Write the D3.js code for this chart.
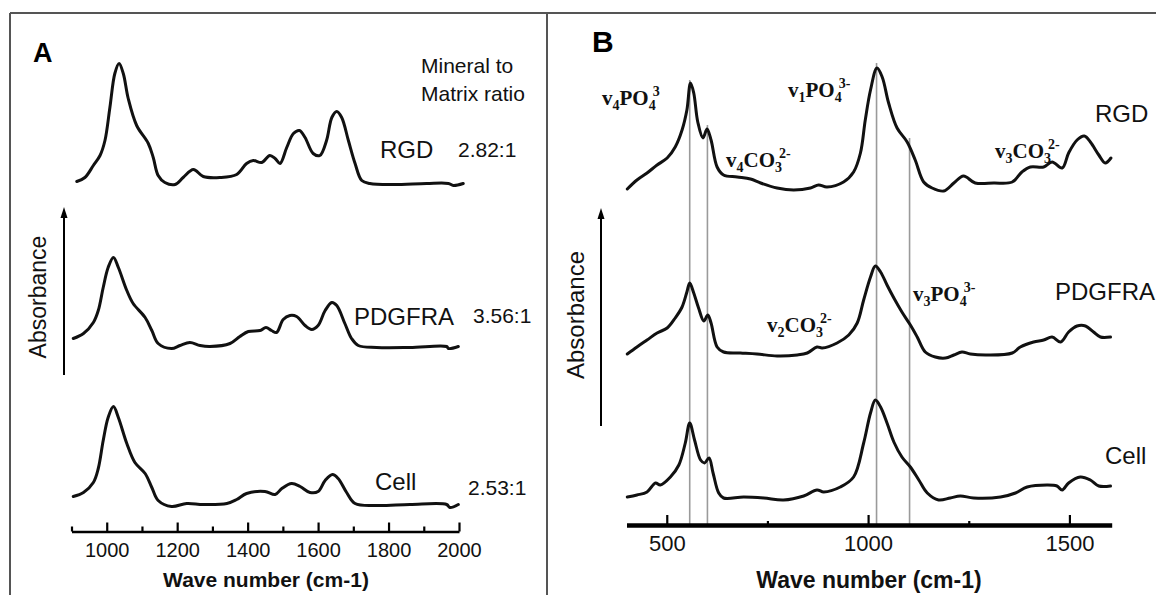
<!DOCTYPE html>
<html>
<head>
<meta charset="utf-8">
<script src="https://cdn.jsdelivr.net/npm/d3@7"></script>
<style>
  body { margin: 0; background: #fff; }
  svg { display: block; }
</style>
</head>
<body>
<div id="chart"></div>
<script>
// FTIR spectra: [wave number (cm-1), stacked absorbance (a.u.)]
// panel A
const rgdA = [[915,3.50],[938,3.54],[962,3.66],[981,3.76],[995,3.91],[1009,4.24],[1023,4.58],[1035,4.68],
  [1047,4.58],[1061,4.33],[1085,4.06],[1118,3.88],[1132,3.74],[1146,3.56],[1165,3.49],[1194,3.47],[1217,3.54],
  [1246,3.62],[1274,3.55],[1321,3.54],[1369,3.57],[1397,3.68],[1416,3.71],[1440,3.69],[1463,3.76],[1478,3.73],
  [1492,3.68],[1511,3.84],[1530,3.98],[1547,4.01],[1563,3.94],[1586,3.78],[1605,3.76],[1624,3.91],[1639,4.14],
  [1653,4.20],[1667,4.14],[1686,3.91],[1705,3.68],[1724,3.51],[1747,3.48],[1813,3.47],[1908,3.48],[1970,3.48],
  [1984,3.46],[2012,3.48]];
const pdgfraA = [[905,1.93],[934,1.98],[962,2.09],[976,2.21],[990,2.44],[1004,2.64],[1019,2.74],[1033,2.64],
  [1057,2.41],[1075,2.28],[1109,2.14],[1128,2.01],[1146,1.88],[1184,1.83],[1208,1.86],[1236,1.89],[1265,1.86],
  [1293,1.85],[1350,1.88],[1378,1.95],[1402,2.00],[1435,2.01],[1452,2.04],[1468,2.01],[1482,1.99],[1501,2.12],
  [1520,2.16],[1539,2.15],[1563,2.06],[1582,2.02],[1600,2.06],[1620,2.21],[1639,2.29],[1653,2.26],[1676,2.08],
  [1695,1.93],[1714,1.86],[1766,1.84],[1861,1.84],[1965,1.85],[1970,1.83],[1998,1.85]];
const cellA = [[905,0.35],[934,0.39],[962,0.49],[976,0.63],[990,0.91],[1004,1.14],[1019,1.25],[1033,1.14],
  [1057,0.88],[1080,0.69],[1109,0.58],[1128,0.44],[1146,0.31],[1184,0.25],[1227,0.28],[1274,0.27],[1341,0.28],
  [1369,0.32],[1397,0.38],[1449,0.40],[1478,0.37],[1497,0.43],[1525,0.48],[1549,0.45],[1577,0.39],[1600,0.40],
  [1620,0.51],[1641,0.57],[1657,0.53],[1681,0.39],[1705,0.28],[1766,0.26],[1861,0.27],[1965,0.27],[1974,0.24],
  [1998,0.27]];

// panel B
const rgdB = [[402,3.36],[426,3.45],[451,3.52],[476,3.60],[501,3.67],[521,3.78],[538,3.95],[550,4.15],[559,4.42],
  [567,4.32],[577,4.03],[590,3.87],[600,3.96],[610,3.85],[625,3.58],[641,3.50],[675,3.48],[708,3.46],[733,3.42],
  [774,3.37],[815,3.35],[857,3.37],[877,3.40],[898,3.38],[939,3.43],[964,3.53],[981,3.72],[993,4.05],[1006,4.35],
  [1022,4.57],[1035,4.48],[1051,4.22],[1072,3.97],[1097,3.83],[1117,3.65],[1138,3.43],[1159,3.37],[1188,3.34],
  [1213,3.42],[1237,3.49],[1266,3.42],[1312,3.42],[1358,3.43],[1382,3.53],[1403,3.58],[1436,3.58],[1457,3.63],
  [1482,3.57],[1498,3.72],[1519,3.85],[1537,3.89],[1552,3.83],[1573,3.70],[1589,3.62],[1603,3.67]];
const pdgfraB = [[402,1.71],[426,1.78],[451,1.85],[476,1.92],[501,1.97],[521,2.07],[538,2.18],[550,2.33],[557,2.42],
  [567,2.32],[579,2.17],[592,2.04],[602,2.10],[610,2.02],[625,1.78],[641,1.73],[683,1.72],[724,1.71],[774,1.69],
  [824,1.70],[849,1.72],[873,1.78],[886,1.77],[923,1.82],[952,1.90],[973,2.02],[989,2.25],[1006,2.48],[1018,2.59],
  [1031,2.53],[1047,2.40],[1064,2.27],[1084,2.13],[1105,2.00],[1122,1.88],[1142,1.73],[1167,1.68],[1192,1.67],
  [1213,1.70],[1233,1.73],[1254,1.71],[1296,1.70],[1358,1.72],[1378,1.78],[1411,1.83],[1436,1.85],[1457,1.88],
  [1478,1.83],[1498,1.93],[1519,1.99],[1540,1.99],[1560,1.93],[1577,1.88],[1602,1.88]];
const cellB = [[402,0.28],[426,0.30],[451,0.33],[472,0.42],[484,0.40],[509,0.48],[530,0.60],[546,0.82],[557,1.02],
  [569,0.85],[584,0.65],[594,0.62],[605,0.67],[615,0.52],[629,0.32],[641,0.27],[691,0.28],[741,0.27],[790,0.25],
  [840,0.29],[873,0.35],[890,0.33],[931,0.38],[964,0.48],[989,0.82],[1006,1.12],[1018,1.25],[1031,1.18],[1047,1.02],
  [1064,0.83],[1084,0.68],[1105,0.58],[1126,0.45],[1147,0.32],[1175,0.25],[1204,0.27],[1229,0.29],[1262,0.27],
  [1329,0.28],[1366,0.32],[1395,0.38],[1445,0.40],[1469,0.39],[1482,0.35],[1498,0.42],[1527,0.48],[1552,0.45],
  [1573,0.39],[1602,0.39]];

const seriesNames = ["RGD", "PDGFRA", "Cell"];
const ratiosA = ["2.82:1", "3.56:1", "2.53:1"];

const majorTicksA = [1000, 1200, 1400, 1600, 1800, 2000];
const minorTicksA = [900, 1100, 1300, 1500, 1700, 1900];
const majorTicksB = [500, 1000, 1500];
const minorTicksB = [750, 1250];

// band assignment lines in B: position and height (top of the line)
const bandLinesB = [557, 601, 1021, 1103];
const bandTopsB = [4.45, 4.0, 4.62, 3.87];

const W = 1156, H = 595;
const SANS = "'Liberation Sans', Arial, Helvetica, sans-serif";
const SERIF = "'Liberation Serif', 'Times New Roman', Times, serif";

const svg = d3.select("#chart").append("svg")
  .attr("width", W).attr("height", H)
  .style("font-family", SANS);

// figure frame
const frame = svg.append("g").attr("stroke", "#555").attr("stroke-width", 2);
frame.append("line").attr("x1", 10).attr("x2", W).attr("y1", 13).attr("y2", 13);
frame.append("line").attr("x1", 10).attr("x2", 10).attr("y1", 13).attr("y2", H);
frame.append("line").attr("x1", 547).attr("x2", 547).attr("y1", 13).attr("y2", H);

function drawPanel(p) {
  const g = svg.append("g");
  const x = d3.scaleLinear().domain(p.xDomain).range(p.xRange);
  const y = d3.scaleLinear().domain([0, 5]).range([p.axisY, p.axisY - 500]);

  if (p.bands) {
    g.append("g").selectAll("line")
      .data(p.bands)
      .join("line")
      .attr("x1", d => x(d[0])).attr("x2", d => x(d[0]))
      .attr("y1", y(0)).attr("y2", d => y(d[1]))
      .attr("stroke", "#9a9a9a").attr("stroke-width", 1.6);
  }

  const line = d3.line()
    .x(d => x(d[0]))
    .y(d => y(d[1]))
    .curve(d3.curveCatmullRom.alpha(0.5));

  g.append("g").selectAll("path")
    .data(p.series)
    .join("path")
    .attr("d", line)
    .attr("fill", "none")
    .attr("stroke", "#111")
    .attr("stroke-width", 3)
    .attr("stroke-linejoin", "round")
    .attr("stroke-linecap", "round");

  // x axis, ticks pointing up
  const axis = g.append("g").attr("transform", `translate(0,${p.axisY})`)
    .call(d3.axisBottom(x).tickValues(p.majors).tickSizeInner(-p.majorLen).tickSizeOuter(0)
      .tickPadding(p.labelPad).tickFormat(d3.format("d")));
  axis.select(".domain").attr("stroke", "#000").attr("stroke-width", p.axisWidth);
  axis.selectAll(".tick line").attr("stroke", "#000").attr("stroke-width", 2.2);
  axis.selectAll("text").attr("font-family", SANS).attr("font-size", p.tickFont).attr("fill", "#111");

  const minor = g.append("g").attr("transform", `translate(0,${p.axisY})`)
    .call(d3.axisBottom(x).tickValues(p.minors).tickSizeInner(-p.minorLen).tickSizeOuter(0).tickFormat(""));
  minor.select(".domain").remove();
  minor.selectAll(".tick line").attr("stroke", "#000").attr("stroke-width", 2.2);

  g.append("text")
    .attr("x", p.titleX).attr("y", p.titleY)
    .attr("text-anchor", "middle")
    .attr("font-weight", "bold").attr("font-size", p.titleFont)
    .attr("fill", "#111")
    .text("Wave number (cm-1)");

  // absorbance arrow
  const [yBot, yTop] = p.arrowY;
  g.append("line")
    .attr("x1", p.arrowX).attr("x2", p.arrowX)
    .attr("y1", yBot).attr("y2", yTop + 8)
    .attr("stroke", "#000").attr("stroke-width", 2);
  g.append("path")
    .attr("d", `M${p.arrowX},${yTop} L${p.arrowX + 3.5},${yTop + 11} L${p.arrowX - 3.5},${yTop + 11} Z`)
    .attr("fill", "#000");
  g.append("text")
    .attr("transform", `translate(${p.absX},${p.absY}) rotate(-90)`)
    .attr("text-anchor", "middle")
    .attr("font-size", p.absFont).attr("fill", "#111")
    .text("Absorbance");

  g.append("text")
    .attr("x", p.letterX).attr("y", p.letterY)
    .attr("font-weight", "bold").attr("font-size", p.letterFont)
    .text(p.letter);

  g.append("g").selectAll("text")
    .data(p.names)
    .join("text")
    .attr("x", d => d.x).attr("y", d => d.y)
    .attr("font-size", 24).attr("fill", "#111")
    .text(d => d.text);

  return g;
}

// panel A
const gA = drawPanel({
  xDomain: [900, 2000], xRange: [71.5, 459], axisY: 531.5, axisWidth: 2.5,
  series: [rgdA, pdgfraA, cellA],
  majors: majorTicksA, minors: minorTicksA, majorLen: 9, minorLen: 5, labelPad: 11, tickFont: 20,
  titleX: 266, titleY: 587, titleFont: 21,
  arrowX: 64, arrowY: [375, 207], absX: 46, absY: 297, absFont: 23,
  letter: "A", letterX: 33, letterY: 62, letterFont: 27,
  names: [
    { text: seriesNames[0], x: 380, y: 158 },
    { text: seriesNames[1], x: 354, y: 325 },
    { text: seriesNames[2], x: 375, y: 490 }
  ]
});

gA.append("text").attr("x", 421).attr("y", 73).attr("font-size", 21).attr("fill", "#111").text("Mineral to");
gA.append("text").attr("x", 421).attr("y", 101).attr("font-size", 21).attr("fill", "#111").text("Matrix ratio");
gA.append("g").selectAll("text")
  .data(ratiosA.map((r, i) => ({ text: r, x: [458, 473, 468][i], y: [157, 323, 495][i] })))
  .join("text")
  .attr("x", d => d.x).attr("y", d => d.y)
  .attr("font-size", 21).attr("fill", "#111")
  .text(d => d.text);

// panel B
const gB = drawPanel({
  xDomain: [400, 1605], xRange: [626.5, 1111.7], axisY: 525, axisWidth: 4.5,
  series: [rgdB, pdgfraB, cellB],
  bands: bandLinesB.map((b, i) => [b, bandTopsB[i]]),
  majors: majorTicksB, minors: minorTicksB, majorLen: 10, minorLen: 4, labelPad: 10, tickFont: 22,
  titleX: 869, titleY: 588, titleFont: 23,
  arrowX: 601, arrowY: [426, 208], absX: 584, absY: 315, absFont: 24,
  letter: "B", letterX: 592, letterY: 52, letterFont: 30,
  names: [
    { text: seriesNames[0], x: 1095, y: 122 },
    { text: seriesNames[1], x: 1055, y: 300 },
    { text: seriesNames[2], x: 1105, y: 464 }
  ]
});

// vibrational band labels: pieces of [text, position]
const bandLabels = [
  { x: 602, y: 105, parts: [["v", ""], ["4", "sub"], ["PO", ""], ["4", "sub"], ["3", "sup"]] },
  { x: 788, y: 97,  parts: [["v", ""], ["1", "sub"], ["PO", ""], ["4", "sub"], ["3-", "sup"]] },
  { x: 726, y: 167, parts: [["v", ""], ["4", "sub"], ["CO", ""], ["3", "sub"], ["2-", "sup"]] },
  { x: 995, y: 158, parts: [["v", ""], ["3", "sub"], ["CO", ""], ["3", "sub"], ["2-", "sup"]] },
  { x: 767, y: 332, parts: [["v", ""], ["2", "sub"], ["CO", ""], ["3", "sub"], ["2-", "sup"]] },
  { x: 913, y: 301, parts: [["v", ""], ["3", "sub"], ["PO", ""], ["4", "sub"], ["3-", "sup"]] }
];

bandLabels.forEach(lab => {
  const t = gB.append("text")
    .attr("x", lab.x).attr("y", lab.y)
    .attr("font-family", SERIF).attr("font-weight", "bold")
    .attr("font-size", 21).attr("fill", "#111");
  let shift = 0;
  lab.parts.forEach(([s, kind], i) => {
    const target = kind === "sub" ? 5 : kind === "sup" ? -9 : 0;
    const ts = t.append("tspan")
      .attr("dy", target - shift)
      .attr("font-size", kind ? 14 : 21)
      .text(s);
    // stack the superscript over the preceding subscript a little
    if (kind === "sup" && lab.parts[i - 1][1] === "sub") ts.attr("dx", -3);
    shift = target;
  });
});
</script>
</body>
</html>
